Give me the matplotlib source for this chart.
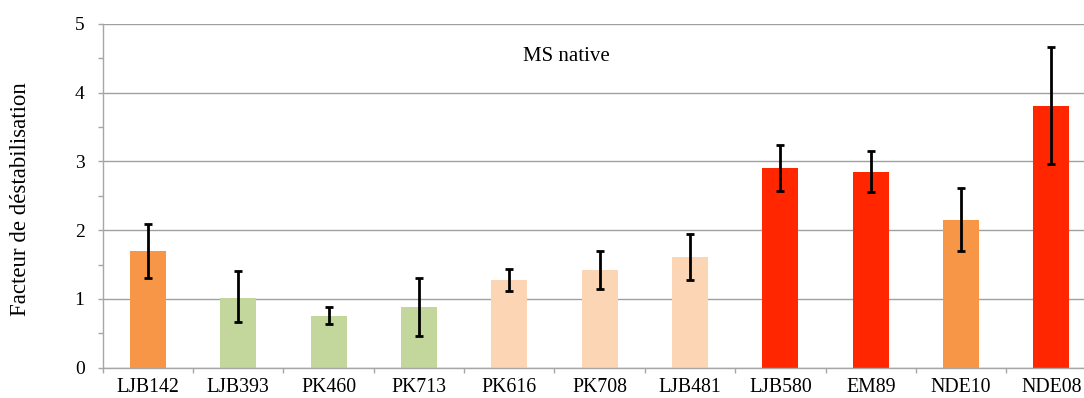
import matplotlib
matplotlib.use("Agg")
import matplotlib.pyplot as plt
from matplotlib.ticker import MultipleLocator, FixedLocator

categories = ["LJB142", "LJB393", "PK460", "PK713", "PK616", "PK708", "LJB481",
              "LJB580", "EM89", "NDE10", "NDE08"]
values = [1.70, 1.02, 0.75, 0.88, 1.27, 1.42, 1.61, 2.91, 2.84, 2.15, 3.81]
err_low = [0.40, 0.36, 0.11, 0.42, 0.15, 0.27, 0.34, 0.34, 0.29, 0.45, 0.85]
err_high = [0.39, 0.38, 0.13, 0.42, 0.17, 0.28, 0.33, 0.33, 0.31, 0.46, 0.86]
bar_colors = ["#F79646", "#C3D69B", "#C3D69B", "#C3D69B", "#FCD5B5", "#FCD5B5",
              "#FCD5B5", "#FF2600", "#FF2600", "#F79646", "#FF2600"]
annotation = "MS native"
ylabel = "Facteur de déstabilisation"

plt.rcParams["font.family"] = ["Liberation Serif", "DejaVu Serif"]

W, H = 1084, 398
fig = plt.figure(figsize=(W / 100, H / 100), dpi=100)
left_px, bottom_px, top_px = 102.7, 367.7, 24.0
ax_w_px = W - left_px
ax = fig.add_axes([left_px / W, (H - bottom_px) / H, ax_w_px / W, (bottom_px - top_px) / H])

step_px = 90.35
x = list(range(len(categories)))
ax.bar(x, values, width=0.4, color=bar_colors, zorder=2)
ax.errorbar(x, values, yerr=[err_low, err_high], fmt="none", ecolor="black",
            elinewidth=2, capsize=3, capthick=2, zorder=3)

ax.set_xlim(-0.5, -0.5 + ax_w_px / step_px)
ax.set_ylim(0, 5)
ax.yaxis.set_major_locator(MultipleLocator(1))
ax.yaxis.set_minor_locator(MultipleLocator(0.5))
ax.set_xticks(x)
ax.set_xticklabels(categories, fontsize=14.3)
ax.xaxis.set_minor_locator(FixedLocator([i - 0.5 for i in range(len(categories) + 1)]))
ax.tick_params(axis="x", which="major", length=0, pad=7.5)
ax.tick_params(axis="x", which="minor", length=3.6, color="#A6A6A6", width=1)
ax.tick_params(axis="y", which="both", length=3.6, color="#A6A6A6", width=1, labelsize=14, pad=9.5)

ax.grid(axis="y", which="major", color="#A0A0A0", linewidth=1, zorder=0)
ax.set_axisbelow(True)
for s in ["top", "right"]:
    ax.spines[s].set_visible(False)
for s in ["left", "bottom"]:
    ax.spines[s].set_color("#A6A6A6")
    ax.spines[s].set_linewidth(1)

ax.set_ylabel(ylabel, fontsize=16.5, va="center")
ax.yaxis.set_label_coords((20 - left_px) / ax_w_px, 0.49)
ax.text(4.63, 4.52, annotation, fontsize=15, ha="center", va="center")

fig.savefig("out.png", dpi=100)
